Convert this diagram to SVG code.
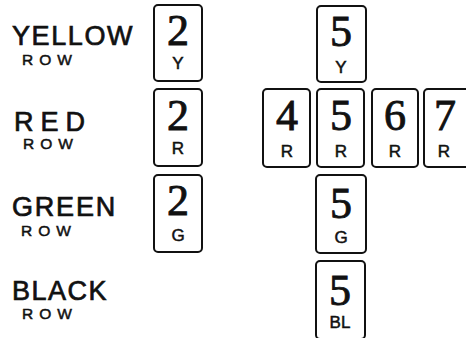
<svg xmlns="http://www.w3.org/2000/svg" width="466" height="338" viewBox="0 0 466 338">
<style>
.bg{fill:#fff}
.card rect{fill:#fff;stroke:#111;stroke-width:2}
.num{font-family:"Liberation Serif",serif;font-size:44px;fill:#111;stroke:#111;stroke-width:0.9;text-anchor:middle}
.let{font-family:"Liberation Sans",sans-serif;font-size:17px;fill:#111;stroke:#111;stroke-width:0.5;text-anchor:middle}
.lbl{font-family:"Liberation Sans",sans-serif;font-size:27px;fill:#111;stroke:#111;stroke-width:0.7}
.row{font-family:"Liberation Sans",sans-serif;font-size:15.5px;fill:#111;stroke:#111;stroke-width:0.5;letter-spacing:6px}
</style>
<rect class="bg" width="466" height="338"/>
<g id="labels">
<text class="lbl" x="12" y="45" style="letter-spacing:1.6px">YELLOW</text>
<text class="row" x="22" y="65">ROW</text>
<text class="lbl" x="14" y="131" style="letter-spacing:7px">RED</text>
<text class="row" x="23" y="149">ROW</text>
<text class="lbl" x="12" y="216" style="letter-spacing:1.8px">GREEN</text>
<text class="row" x="21" y="236">ROW</text>
<text class="lbl" x="12" y="300" style="letter-spacing:1.5px">BLACK</text>
<text class="row" x="22" y="319">ROW</text>
</g>
<g id="connectors"></g>
<g id="card-2Y" class="card"><rect x="154" y="5" width="48" height="76" rx="4"/><text class="num" x="178" y="45">2</text><text class="let" x="178" y="69">Y</text></g>
<g id="card-2R" class="card"><rect x="154" y="89" width="48" height="77" rx="4"/><text class="num" x="178" y="130">2</text><text class="let" x="178" y="154">R</text></g>
<g id="card-2G" class="card"><rect x="154" y="175" width="48" height="77" rx="4"/><text class="num" x="178" y="215">2</text><text class="let" x="178" y="241">G</text></g>
<g id="card-5Y" class="card"><rect x="317" y="6" width="49" height="76" rx="4"/><text class="num" x="341" y="46">5</text><text class="let" x="341" y="73">Y</text></g>
<g id="card-4R" class="card"><rect x="263" y="89" width="47" height="78" rx="4"/><text class="num" x="287" y="130">4</text><text class="let" x="287" y="157">R</text></g>
<g id="card-5R" class="card"><rect x="317" y="89" width="47" height="78" rx="4"/><text class="num" x="341" y="130">5</text><text class="let" x="341" y="157">R</text></g>
<g id="card-6R" class="card"><rect x="372" y="89" width="46" height="78" rx="4"/><text class="num" x="395" y="130">6</text><text class="let" x="395" y="157">R</text></g>
<g id="card-7R" class="card"><rect x="424" y="89" width="46" height="78" rx="4"/><text class="num" x="445" y="130">7</text><text class="let" x="444" y="157">R</text></g>
<g id="card-5G" class="card"><rect x="316" y="175" width="50" height="78" rx="4"/><text class="num" x="341" y="218">5</text><text class="let" x="341" y="243">G</text></g>
<g id="card-5BL" class="card"><rect x="316" y="261" width="49" height="78" rx="4"/><text class="num" x="340" y="305">5</text><text class="let" x="340" y="328">BL</text></g>
</svg>
